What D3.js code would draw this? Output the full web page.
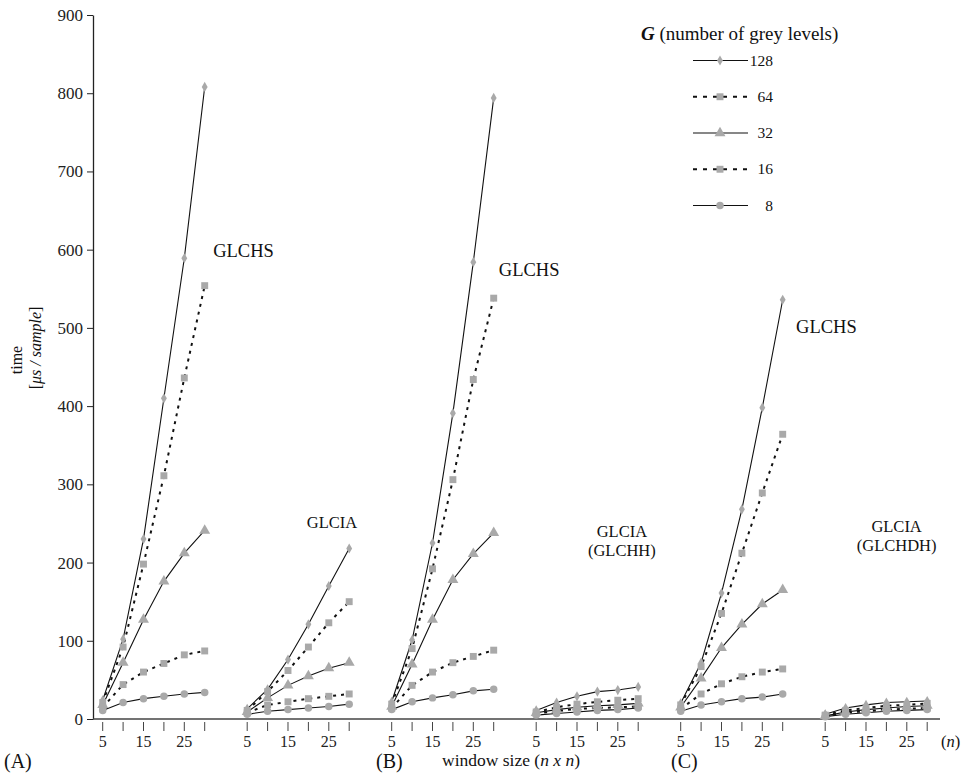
<!DOCTYPE html>
<html>
<head>
<meta charset="utf-8">
<script src="https://cdn.jsdelivr.net/npm/d3@7"></script>
<style>
  body { margin: 0; background: #fff; }
  svg { font-family: "Liberation Serif", "Times New Roman", serif; }
</style>
</head>
<body>
<svg width="962" height="775"></svg>
<script>
// window sizes n and grey levels G
var windowSizes = [5, 10, 15, 20, 25, 30];
var greyLevels = ["128", "64", "32", "16", "8"];
var groups = ["A1", "A2", "B1", "B2", "C1", "C2"];
var yTicks = [0, 100, 200, 300, 400, 500, 600, 700, 800, 900];
var xTickLabels = [5, 15, 25];

// time [us / sample], one row per grey level (128, 64, 32, 16, 8)
var glchsA = [
    [24, 102, 230, 410, 589, 808],
    [21, 92, 198, 311, 436, 554],
    [18, 72, 127, 176, 212, 241],
    [15, 44, 60, 71, 82, 87],
    [11, 21, 26, 29, 32, 34]
];
var glciaA = [
    [13, 38, 76, 121, 170, 218],
    [11, 35, 62, 92, 123, 150],
    [9, 27, 43, 55, 65, 72],
    [8, 18, 22, 26, 29, 32],
    [6, 10, 12, 14, 16, 19]
];
var glchsB = [
    [22, 101, 225, 391, 584, 794],
    [19, 90, 192, 306, 434, 538],
    [16, 70, 127, 178, 211, 238],
    [14, 43, 60, 72, 80, 88],
    [12, 22, 27, 31, 36, 38]
];
var glciaB = [
    [11, 21, 29, 35, 37, 41],
    [9, 15, 19, 22, 24, 26],
    [8, 12, 15, 17, 18, 20],
    [7, 10, 13, 14, 15, 16],
    [5, 7, 9, 11, 12, 14]
];
var glchsC = [
    [20, 72, 161, 268, 398, 536],
    [18, 67, 135, 212, 289, 364],
    [15, 52, 91, 121, 147, 165],
    [13, 32, 45, 54, 60, 64],
    [10, 18, 22, 26, 28, 32]
];
var glciaC = [
    [6, 14, 18, 21, 22, 23],
    [5, 11, 14, 17, 18, 20],
    [4, 9, 12, 14, 16, 17],
    [4, 8, 10, 12, 13, 14],
    [3, 6, 8, 10, 11, 12]
];
var groupData = [glchsA, glciaA, glchsB, glciaB, glchsC, glciaC];

var svg = d3.select("svg");
var grey = "#a9a9a9";

var y = d3.scaleLinear().domain([0, 900]).range([719, 15]);
var band = d3.scaleBand().domain(groups).range([102.7, 102.7 + 6 * 144.5]);
var inner = d3.scaleLinear().domain([5, 30]).range([0, 102]);

function xPos(g, n) { return band(g) + inner(n); }

var styles = {
    "128": { dash: null, width: 1.1, symbol: d3.symbolDiamond, size: 30 },
    "64": { dash: "3,5", width: 2, symbol: d3.symbolSquare, size: 48 },
    "32": { dash: null, width: 1.1, symbol: d3.symbolTriangle, size: 52 },
    "16": { dash: "3,5", width: 2, symbol: d3.symbolSquare, size: 48 },
    "8": { dash: null, width: 1.1, symbol: d3.symbolCircle, size: 44 }
};

// y axis
var yAxis = svg.append("g")
    .attr("transform", "translate(93,0)")
    .call(d3.axisLeft(y).tickValues(yTicks).tickSize(6).tickSizeOuter(0).tickPadding(4));
yAxis.select(".domain").attr("stroke", "#222").attr("stroke-width", 1.3);
yAxis.selectAll(".tick line").attr("stroke", "#222");
yAxis.selectAll("text").attr("font-size", 17).attr("fill", "#222")
    .attr("font-family", "Liberation Serif, serif");

// x axis line
svg.append("line")
    .attr("x1", 93).attr("x2", 940)
    .attr("y1", 719).attr("y2", 719)
    .attr("stroke", "#444").attr("stroke-width", 1.6);

groups.forEach(function(g) {
    var ax = svg.append("g")
        .attr("transform", "translate(" + band(g) + ",719)");
    ax.selectAll("line").data(windowSizes).enter().append("line")
        .attr("x1", function(d) { return inner(d); })
        .attr("x2", function(d) { return inner(d); })
        .attr("y1", 3).attr("y2", 12)
        .attr("stroke", "#444").attr("stroke-width", 1);
    ax.selectAll("text").data(xTickLabels).enter().append("text")
        .attr("x", function(d) { return inner(d); })
        .attr("y", 28)
        .attr("text-anchor", "middle")
        .attr("font-size", 16).attr("fill", "#222")
        .text(function(d) { return d; });
});

// curves
var line = d3.line();
groups.forEach(function(g, gi) {
    var gg = svg.append("g");
    groupData[gi].forEach(function(vals, li) {
        var st = styles[greyLevels[li]];
        gg.append("path")
            .attr("d", line(vals.map(function(v, i) { return [xPos(g, windowSizes[i]), y(v)]; })))
            .attr("fill", "none")
            .attr("stroke", "#111")
            .attr("stroke-width", st.width)
            .attr("stroke-dasharray", st.dash);
    });
    groupData[gi].forEach(function(vals, li) {
        var st = styles[greyLevels[li]];
        gg.selectAll(null).data(vals).enter().append("path")
            .attr("transform", function(v, i) { return "translate(" + xPos(g, windowSizes[i]) + "," + y(v) + ")"; })
            .attr("d", d3.symbol().type(st.symbol).size(st.size))
            .attr("fill", grey);
    });
});

// curve labels
function label(g, n, v, lines, size) {
    var t = svg.append("text")
        .attr("x", xPos(g, n)).attr("y", y(v))
        .attr("font-size", size).attr("fill", "#111")
        .attr("text-anchor", "middle");
    lines.forEach(function(s, i) {
        t.append("tspan").attr("x", xPos(g, n)).attr("dy", i === 0 ? 0 : "1.15em").text(s);
    });
}
label("A1", 39.5, 591, ["GLCHS"], 18.5);
label("B1", 38.7, 566, ["GLCHS"], 18.5);
label("C1", 40.7, 493, ["GLCHS"], 18.5);
label("A2", 25.8, 244, ["GLCIA"], 16.5);
label("B2", 26, 233, ["GLCIA", "(GLCHH)"], 16.5);
label("C2", 22.5, 239, ["GLCIA", "(GLCHDH)"], 16.5);

// legend
var legend = svg.append("g");
var lt = legend.append("text").attr("x", 641).attr("y", 40).attr("font-size", 19).attr("fill", "#111");
lt.append("tspan").attr("font-style", "italic").attr("font-weight", "bold").text("G");
lt.append("tspan").text(" (number of grey levels)");

var legendY = d3.scalePoint().domain(greyLevels).range([60.5, 205.5]);
greyLevels.forEach(function(l) {
    var st = styles[l];
    var ly = legendY(l);
    legend.append("line")
        .attr("x1", 693).attr("x2", 748)
        .attr("y1", ly).attr("y2", ly)
        .attr("stroke", "#111")
        .attr("stroke-width", st.dash ? 2 : 1.1)
        .attr("stroke-dasharray", st.dash ? "4,6" : null);
    legend.append("path")
        .attr("transform", "translate(720," + ly + ")")
        .attr("d", d3.symbol().type(st.symbol).size(st.size))
        .attr("fill", grey);
    legend.append("text")
        .attr("x", 773).attr("y", ly + 5)
        .attr("text-anchor", "end")
        .attr("font-size", 15.5).attr("fill", "#111")
        .text(l);
});

// axis titles
svg.append("text")
    .attr("transform", "translate(22,360) rotate(-90)")
    .attr("text-anchor", "middle").attr("font-size", 16).attr("fill", "#111")
    .text("time");
var yl = svg.append("text")
    .attr("transform", "translate(41,348) rotate(-90)")
    .attr("text-anchor", "middle").attr("font-size", 16).attr("fill", "#111");
yl.append("tspan").text("[");
yl.append("tspan").attr("font-style", "italic").text("μs / sample");
yl.append("tspan").text("]");

var xl = svg.append("text").attr("x", 442).attr("y", 766).attr("font-size", 17.5).attr("fill", "#111");
xl.append("tspan").text("window size (");
xl.append("tspan").attr("font-style", "italic").text("n x n");
xl.append("tspan").text(")");

var nl = svg.append("text").attr("x", 941).attr("y", 747).attr("font-size", 16.5).attr("fill", "#111");
nl.append("tspan").text("(");
nl.append("tspan").attr("font-style", "italic").text("n");
nl.append("tspan").text(")");

svg.selectAll(null).data([["(A)", 4], ["(B)", 376], ["(C)", 671]]).enter().append("text")
    .attr("x", function(d) { return d[1]; })
    .attr("y", 768)
    .attr("font-size", 20).attr("fill", "#111")
    .text(function(d) { return d[0]; });
</script>
</body>
</html>
